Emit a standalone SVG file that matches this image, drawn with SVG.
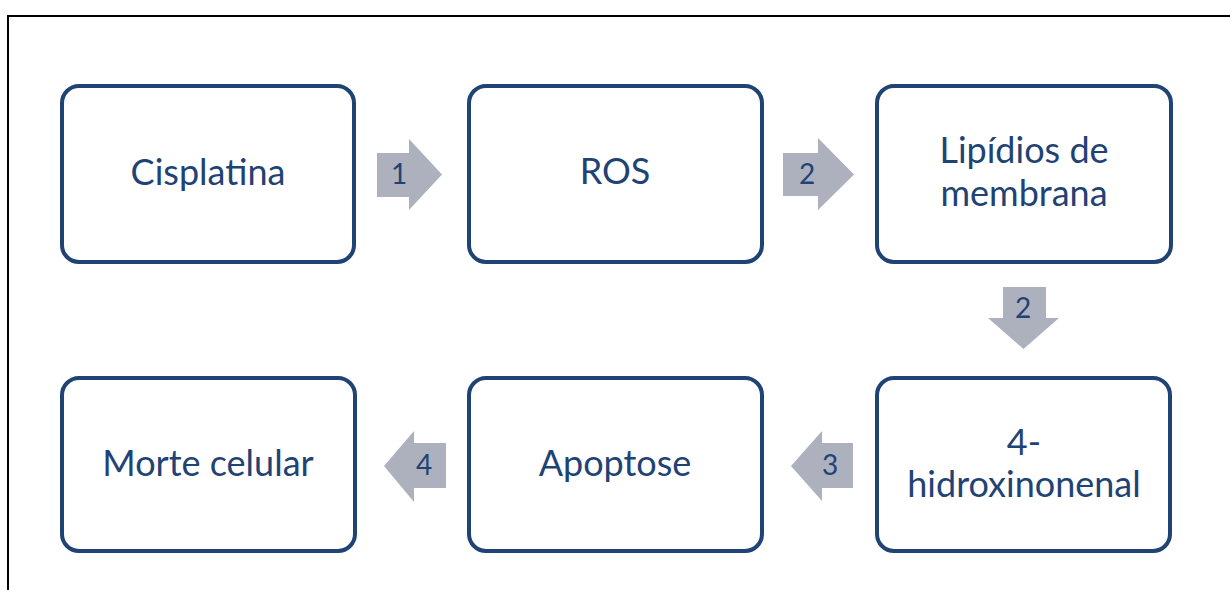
<svg xmlns="http://www.w3.org/2000/svg" width="1230" height="590" viewBox="0 0 1230 590">
  <style>
    .box { fill: #ffffff; stroke: #1f4374; stroke-width: 4; }
    .label { font-family: Lato, "Open Sans", sans-serif; font-size: 36px; fill: #1f4374; text-anchor: middle; }
    .arrow { fill: #adb1be; stroke: none; }
    .num { font-family: Lato, "Open Sans", sans-serif; font-size: 28px; fill: #1f4374; text-anchor: middle; }
  </style>
  <rect width="1230" height="590" fill="#ffffff"/>
  <!-- frame -->
  <path d="M8 590 V16 H1230" fill="none" stroke="#000000" stroke-width="2"/>

  <g id="connectors">
    <g id="arrow-1">
      <polygon class="arrow" points="377,153 409,153 409,139 442,174.5 409,210 409,197 377,197"/>
      <text class="num" x="399" y="184">1</text>
    </g>
    <g id="arrow-2a">
      <polygon class="arrow" points="783,153 818,153 818,138 854,174.5 818,210 818,196 783,196"/>
      <text class="num" x="807" y="184">2</text>
    </g>
    <g id="arrow-2b">
      <polygon class="arrow" points="1003,287 1046,287 1046,318 1059,318 1023.5,349 988,318 1003,318"/>
      <text class="num" x="1023" y="318">2</text>
    </g>
    <g id="arrow-3">
      <polygon class="arrow" points="853,443 822,443 822,431 791,466 822,501 822,488 853,488"/>
      <text class="num" x="830" y="475">3</text>
    </g>
    <g id="arrow-4">
      <polygon class="arrow" points="446,443 414,443 414,431 384,466 414,502 414,488 446,488"/>
      <text class="num" x="424" y="475">4</text>
    </g>
  </g>

  <g id="node-cisplatina">
    <rect class="box" x="62" y="86" width="292" height="176" rx="17"/>
    <text class="label" x="208" y="185">Cisplatina</text>
  </g>
  <g id="node-ros">
    <rect class="box" x="469" y="86" width="293" height="176" rx="17"/>
    <text class="label" x="615" y="184">ROS</text>
  </g>
  <g id="node-lipidios">
    <rect class="box" x="877" y="86" width="294" height="176" rx="17"/>
    <text class="label" x="1024" y="163">Lipídios de</text>
    <text class="label" x="1024" y="206">membrana</text>
  </g>
  <g id="node-hidroxinonenal">
    <rect class="box" x="877" y="378" width="293" height="173" rx="17"/>
    <text class="label" x="1024" y="455">4-</text>
    <text class="label" x="1024" y="497">hidroxinonenal</text>
  </g>
  <g id="node-apoptose">
    <rect class="box" x="469" y="378" width="293" height="173" rx="17"/>
    <text class="label" x="615" y="476">Apoptose</text>
  </g>
  <g id="node-morte">
    <rect class="box" x="62" y="378" width="293" height="173" rx="17"/>
    <text class="label" x="208" y="476">Morte celular</text>
  </g>
</svg>
